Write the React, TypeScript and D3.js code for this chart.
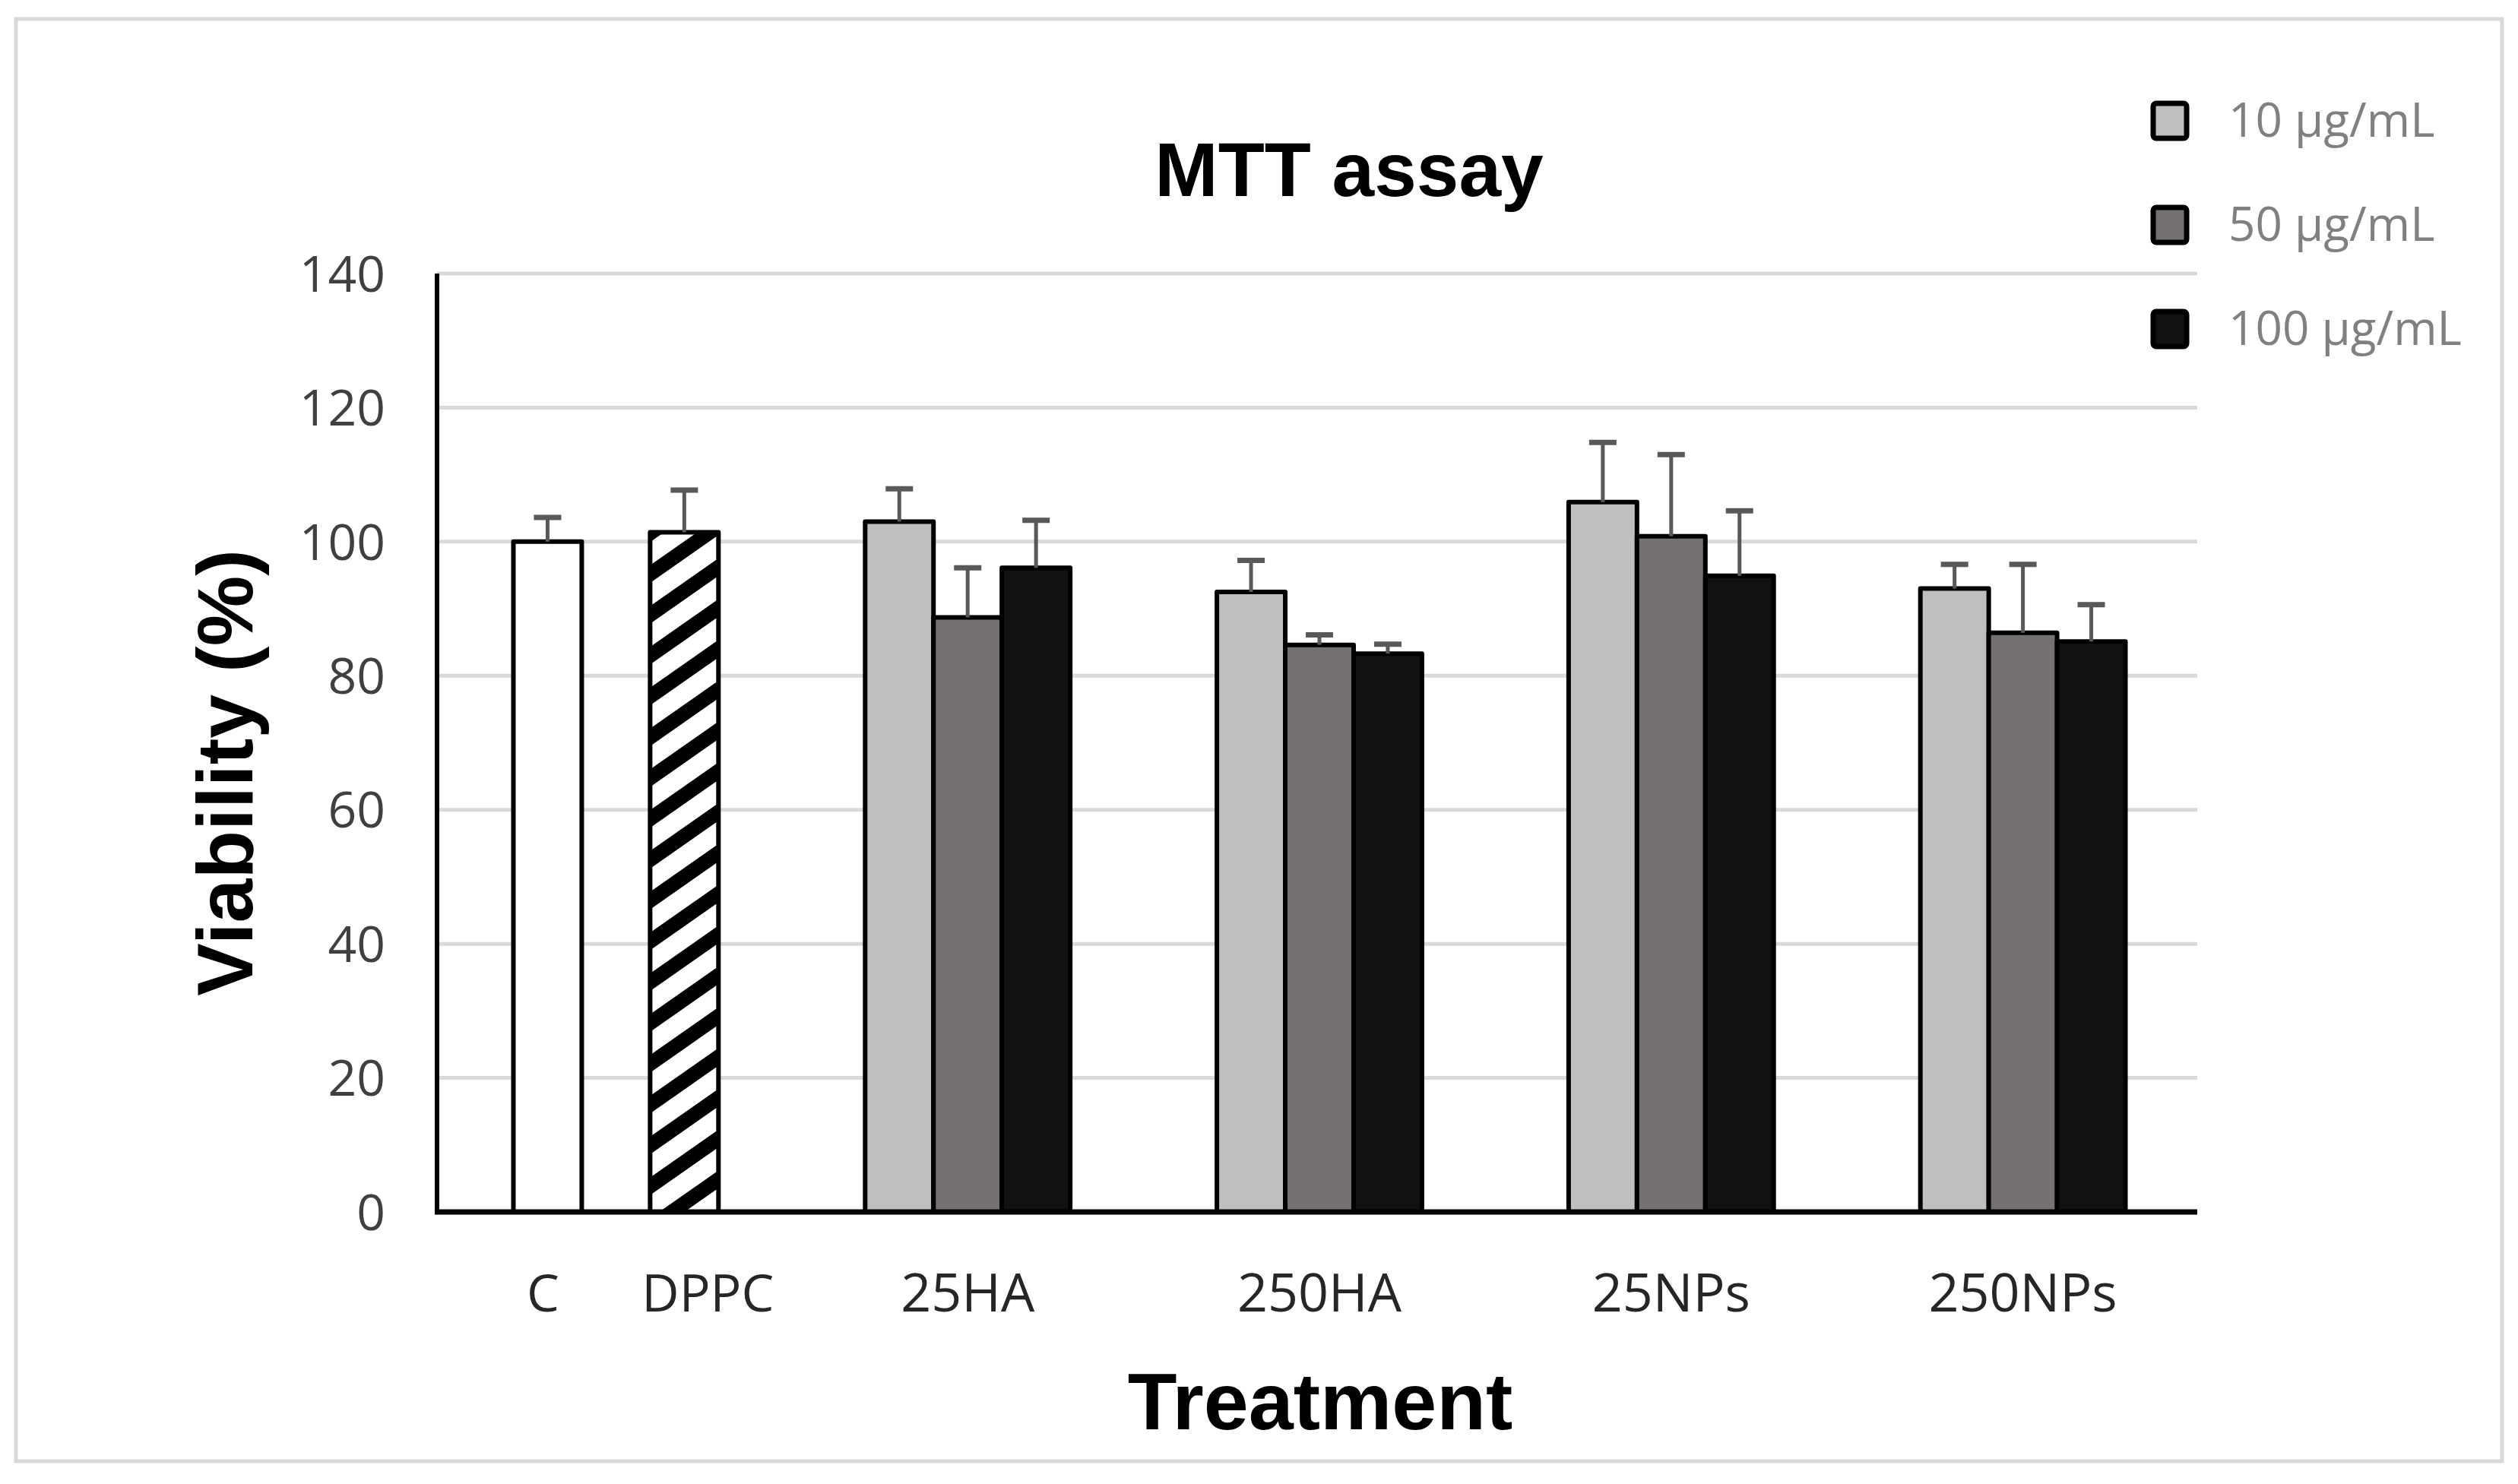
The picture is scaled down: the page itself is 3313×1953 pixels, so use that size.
import * as d3 from 'd3';

// groups on the x axis; the first one holds the two controls
const groupKeys = ['control', '25HA', '250HA', '25NPs', '250NPs'];
const treatmentGroups = ['25HA', '250HA', '25NPs', '250NPs'];
const seriesKeys = ['10 µg/mL', '50 µg/mL', '100 µg/mL'];

const values10 = [103.0, 92.5, 105.9, 93.0];
const values50 = [88.7, 84.6, 100.8, 86.4];
const values100 = [96.1, 83.3, 94.9, 85.1];
const errors10 = [4.9, 4.7, 8.9, 3.6];
const errors50 = [7.4, 1.5, 12.2, 10.2];
const errors100 = [7.1, 1.4, 9.7, 5.5];

const controlLabels = ['C', 'DPPC'];
const controlValues = [100, 101.4];
const controlErrors = [3.6, 6.3];

const yTicks = [0, 20, 40, 60, 80, 100, 120, 140];

const seriesFill = ['#bfbfbf', '#767171', '#111111'];

const W = 3313;
const H = 1953;
const plot = { left: 575, right: 2891, top: 360, bottom: 1595 };

export default function App() {
  const y = d3.scaleLinear().domain([0, 140]).range([plot.bottom, plot.top]);
  const x0 = d3.scaleBand<string>().domain(groupKeys).range([plot.left + 4, plot.right + 2])
    .paddingInner(0.417).paddingOuter(0.2085);
  const x1 = d3.scaleBand<string>().domain(seriesKeys).range([0, x0.bandwidth()]);
  const legendY = d3.scalePoint<string>().domain(seriesKeys).range([159, 433]);

  const seriesValues = [values10, values50, values100];
  const seriesErrors = [errors10, errors50, errors100];

  type Bar = { x: number; value: number; err: number; fill: string };
  const bars: Bar[] = [];
  // controls: C in first slot, DPPC in last slot of the first group
  controlValues.forEach((v, i) => {
    const slot = i === 0 ? seriesKeys[0] : seriesKeys[2];
    bars.push({
      x: (x0('control') ?? 0) + (x1(slot) ?? 0),
      value: v,
      err: controlErrors[i],
      fill: i === 0 ? '#ffffff' : 'url(#hatch)',
    });
  });
  treatmentGroups.forEach((g, gi) => {
    seriesKeys.forEach((s, si) => {
      bars.push({
        x: (x0(g) ?? 0) + (x1(s) ?? 0),
        value: seriesValues[si][gi],
        err: seriesErrors[si][gi],
        fill: seriesFill[si],
      });
    });
  });

  const bw = x1.bandwidth();
  const capW = 36;
  const labelFont = '"Open Sans", sans-serif';
  const boldFont = '"Liberation Sans", Arial, sans-serif';

  const controlLabelX = [
    (x0('control') ?? 0) + (x1(seriesKeys[0]) ?? 0) + bw / 2 - 6,
    (x0('control') ?? 0) + (x1(seriesKeys[2]) ?? 0) + bw / 2 + 31,
  ];

  return (
    <svg width={W} height={H} style={{ position: 'absolute', left: 0, top: 0 }}>
      <defs>
        <pattern id="hatch" patternUnits="userSpaceOnUse" width={44} height={44}
          patternTransform="rotate(-35)">
          <rect width={44} height={44} fill="#ffffff" />
          <rect width={44} height={19} fill="#000000" />
        </pattern>
      </defs>
      <rect x={0} y={0} width={W} height={H} fill="#ffffff" />
      <rect x={21} y={25} width={3271} height={1898} fill="#ffffff" stroke="#d9d9d9" strokeWidth={5} />

      {/* gridlines */}
      {yTicks.filter(t => t > 0).map(t => (
        <line key={t} x1={plot.left} x2={plot.right} y1={y(t)} y2={y(t)} stroke="#d9d9d9" strokeWidth={5} />
      ))}

      {/* bars */}
      {bars.map((b, i) => (
        <rect key={i} x={b.x} y={y(b.value)} width={bw} height={y(0) - y(b.value)}
          fill={b.fill} stroke="#000000" strokeWidth={6} strokeLinejoin="round" />
      ))}

      {/* error bars, plus direction only */}
      {bars.map((b, i) => {
        const cx = b.x + bw / 2;
        return (
          <g key={i} stroke="#595959">
            <line x1={cx} x2={cx} y1={y(b.value)} y2={y(b.value + b.err)} strokeWidth={5} />
            <line x1={cx - capW / 2} x2={cx + capW / 2} y1={y(b.value + b.err)} y2={y(b.value + b.err)} strokeWidth={7} />
          </g>
        );
      })}

      {/* axes */}
      <line x1={plot.left} x2={plot.left} y1={plot.top} y2={plot.bottom} stroke="#000000" strokeWidth={6} />
      <line x1={plot.left - 3} x2={plot.right} y1={plot.bottom} y2={plot.bottom} stroke="#000000" strokeWidth={7} />

      {yTicks.map(t => (
        <text key={t} x={507} y={y(t)} dy="0.36em" textAnchor="end" fontFamily={labelFont}
          fontSize={66} fill="#404040">{t}</text>
      ))}

      {controlLabels.map((l, i) => (
        <text key={l} x={controlLabelX[i]} y={1726} textAnchor="middle" fontFamily={labelFont}
          fontSize={68} fill="#262626">{l}</text>
      ))}
      {treatmentGroups.map(g => (
        <text key={g} x={(x0(g) ?? 0) + x0.bandwidth() / 2} y={1726} textAnchor="middle"
          fontFamily={labelFont} fontSize={70} fill="#262626">{g}</text>
      ))}

      <text x={1775} y={258} textAnchor="middle" fontFamily={boldFont} fontWeight="bold"
        fontSize={100} fill="#000000">MTT assay</text>
      <text x={1737} y={1881} textAnchor="middle" fontFamily={boldFont} fontWeight="bold"
        fontSize={106} fill="#000000">Treatment</text>
      <text transform="translate(332,1017) rotate(-90)" textAnchor="middle" fontFamily={boldFont}
        fontWeight="bold" fontSize={104} fill="#000000">Viability (%)</text>

      {/* legend */}
      {seriesKeys.map((s, i) => (
        <g key={s}>
          <rect x={2833} y={(legendY(s) ?? 0) - 23} width={44} height={46} rx={4}
            fill={seriesFill[i]} stroke="#000000" strokeWidth={7} />
          <text x={2932} y={(legendY(s) ?? 0) + 21} fontFamily={labelFont} fontSize={62}
            fill="#808080">{s}</text>
        </g>
      ))}
    </svg>
  );
}
